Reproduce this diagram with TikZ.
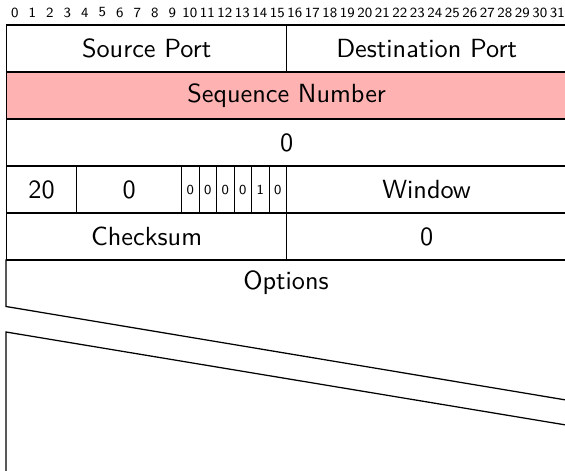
\documentclass[tikz,border=0pt]{standalone}
\begin{document}
\begin{tikzpicture}[x=0.4pt,y=-0.4pt,
  cell/.style={draw, line width=0.5pt, inner sep=0pt, anchor=north west, font=\sffamily\fontsize{10.5}{12}\selectfont},
  flag/.style={cell, font=\sffamily\fontsize{5.5}{6}\selectfont},
  bitnum/.style={inner sep=0pt, font=\sffamily\fontsize{5.6}{7}\selectfont},
  brk/.style={line width=0.5pt}]
\useasboundingbox (0,0) rectangle (565,471);
% bit numbers
\foreach \b in {0,...,31} {
  \node[bitnum] (n\b) at ({6+17.5*(\b+0.5)},12.5) {\b};
}
% row 1
\node[cell, minimum width=280*0.4pt, minimum height=47*0.4pt] (src) at (6,24.5) {Source Port};
\node[cell, minimum width=280*0.4pt, minimum height=47*0.4pt] (dst) at (286,24.5) {Destination Port};
% row 2
\node[cell, fill=red!30, minimum width=560*0.4pt, minimum height=47*0.4pt] (seq) at (6,71.5) {Sequence Number};
% row 3
\node[cell, minimum width=560*0.4pt, minimum height=47*0.4pt] (ack) at (6,118.5) {0};
% row 4
\node[cell, minimum width=70*0.4pt, minimum height=47*0.4pt] (off) at (6,165.5) {20};
\node[cell, minimum width=105*0.4pt, minimum height=47*0.4pt] (res) at (76,165.5) {0};
\foreach \v [count=\i from 0] in {0,0,0,0,1,0} {
  \node[flag, minimum width=17.5*0.4pt, minimum height=47*0.4pt] (f\i) at ({181+17.5*\i},165.5) {\v};
}
\node[cell, minimum width=280*0.4pt, minimum height=47*0.4pt] (win) at (286,165.5) {Window};
% row 5
\node[cell, minimum width=280*0.4pt, minimum height=47*0.4pt] (chk) at (6,212.5) {Checksum};
\node[cell, minimum width=280*0.4pt, minimum height=47*0.4pt] (urg) at (286,212.5) {0};
% options
\node[inner sep=0pt, font=\sffamily\fontsize{10.5}{12}\selectfont] (opt) at (286,283) {Options};
\coordinate (oa) at (6,259.5);
\coordinate (ob) at (6,306.5);
\coordinate (oc) at (566,400);
\coordinate (od) at (6,332);
\coordinate (oe) at (566,425);
\coordinate (of) at (6,475);
\draw[brk] (oa) -- (ob) -- (oc);
\draw[brk] (oe) -- (od) -- (of);
\end{tikzpicture}
\end{document}
